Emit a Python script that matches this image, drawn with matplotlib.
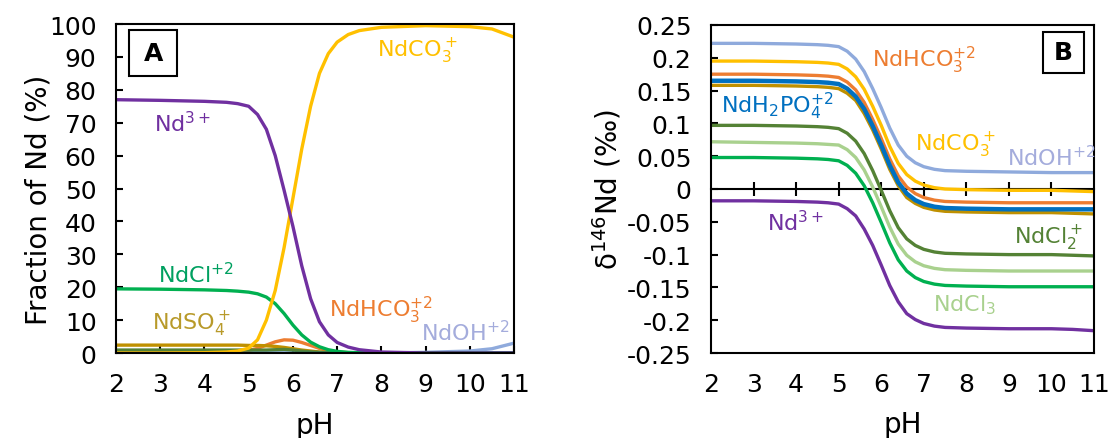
import matplotlib
matplotlib.use('Agg')
import matplotlib.pyplot as plt
from matplotlib.patches import Rectangle

plt.rcParams['font.family'] = ['DejaVu Sans']
plt.rcParams['mathtext.fontset'] = 'dejavusans'

# pH grid shared by both panels
ph = [2, 3, 4, 4.5, 4.75, 5, 5.2, 5.4, 5.6, 5.8, 6.0, 6.2, 6.4, 6.6, 6.8, 7.0, 7.25, 7.5, 8, 9, 10, 10.5, 11]

# panel A: fraction of Nd (%)
nd3_a = [77.0, 76.8, 76.5, 76.2, 75.8, 75.0, 72.5, 68.0, 60.0, 49.5, 38.5, 26.5, 16.5, 9.5, 5.5, 3.2, 1.8, 1.0, 0.3, 0.0, 0.0, 0.0, 0.0]
ndco3_a = [0.0, 0.0, 0.1, 0.3, 0.6, 1.5, 4.0, 10.0, 19.0, 32.0, 47.0, 62.0, 75.0, 85.0, 91.0, 94.5, 96.8, 98.0, 99.0, 99.5, 99.2, 98.5, 96.0]
ndcl_a = [19.5, 19.4, 19.2, 19.0, 18.8, 18.5, 18.0, 17.0, 15.0, 12.0, 8.5, 5.5, 3.3, 1.9, 1.0, 0.5, 0.2, 0.1, 0.0, 0.0, 0.0, 0.0, 0.0]
ndhco3_a = [0.5, 0.5, 0.5, 0.5, 0.6, 0.8, 1.4, 2.4, 3.4, 4.0, 3.9, 3.2, 2.3, 1.4, 0.7, 0.3, 0.1, 0.0, 0.0, 0.0, 0.0, 0.0, 0.0]
ndso4_a = [2.4, 2.4, 2.4, 2.4, 2.4, 2.3, 2.3, 2.2, 2.0, 1.7, 1.3, 0.9, 0.6, 0.3, 0.15, 0.05, 0.0, 0.0, 0.0, 0.0, 0.0, 0.0, 0.0]
ndcl2_a = [0.9, 0.9, 0.9, 0.9, 0.9, 0.9, 0.9, 0.9, 1.0, 1.1, 0.9, 0.6, 0.35, 0.2, 0.1, 0.05, 0.0, 0.0, 0.0, 0.0, 0.0, 0.0, 0.0]
ndoh_a = [0.0, 0.0, 0.0, 0.0, 0.0, 0.0, 0.0, 0.0, 0.0, 0.0, 0.0, 0.0, 0.0, 0.0, 0.0, 0.0, 0.0, 0.0, 0.0, 0.2, 0.6, 1.3, 3.0]
ndh2po4_a = [0.1] * len(ph)

# panel B: delta 146Nd (permil)
ndoh_b = [0.222, 0.222, 0.221, 0.220, 0.219, 0.217, 0.210, 0.198, 0.179, 0.153, 0.124, 0.093, 0.067, 0.050, 0.040, 0.034, 0.030, 0.028, 0.027, 0.026, 0.025, 0.025, 0.025]
ndco3_b = [0.195, 0.195, 0.194, 0.193, 0.192, 0.190, 0.183, 0.171, 0.152, 0.126, 0.097, 0.065, 0.039, 0.022, 0.012, 0.006, 0.002, 0.000, -0.001, -0.002, -0.002, -0.003, -0.004]
ndhco3_b = [0.175, 0.175, 0.174, 0.173, 0.172, 0.170, 0.163, 0.151, 0.132, 0.106, 0.077, 0.046, 0.020, 0.003, -0.007, -0.013, -0.017, -0.019, -0.020, -0.021, -0.021, -0.021, -0.021]
ndso4_b = [0.158, 0.158, 0.157, 0.156, 0.155, 0.153, 0.146, 0.135, 0.115, 0.090, 0.061, 0.030, 0.005, -0.013, -0.022, -0.028, -0.032, -0.034, -0.035, -0.036, -0.036, -0.037, -0.038]
ndh2po4_b = [0.165, 0.165, 0.164, 0.163, 0.162, 0.160, 0.153, 0.141, 0.122, 0.096, 0.067, 0.036, 0.010, -0.007, -0.017, -0.023, -0.027, -0.029, -0.030, -0.031, -0.031, -0.031, -0.031]
ndcl2_b = [0.097, 0.097, 0.096, 0.095, 0.094, 0.092, 0.085, 0.073, 0.054, 0.028, -0.002, -0.033, -0.059, -0.076, -0.086, -0.092, -0.096, -0.098, -0.099, -0.100, -0.100, -0.101, -0.102]
ndcl3_b = [0.072, 0.071, 0.070, 0.069, 0.068, 0.067, 0.060, 0.048, 0.029, 0.003, -0.027, -0.058, -0.084, -0.101, -0.111, -0.117, -0.121, -0.123, -0.124, -0.125, -0.125, -0.125, -0.125]
ndcl_b = [0.048, 0.048, 0.047, 0.046, 0.045, 0.043, 0.036, 0.024, 0.005, -0.021, -0.051, -0.082, -0.108, -0.125, -0.135, -0.141, -0.145, -0.147, -0.148, -0.149, -0.149, -0.149, -0.149]
nd3_b = [-0.018, -0.018, -0.019, -0.020, -0.021, -0.023, -0.030, -0.041, -0.061, -0.086, -0.116, -0.147, -0.172, -0.190, -0.199, -0.205, -0.209, -0.211, -0.212, -0.213, -0.213, -0.214, -0.216]

xticks = [2, 3, 4, 5, 6, 7, 8, 9, 10, 11]
yticks_a = [0, 10, 20, 30, 40, 50, 60, 70, 80, 90, 100]
yticks_b = [0.25, 0.2, 0.15, 0.1, 0.05, 0, -0.05, -0.1, -0.15, -0.2, -0.25]
ytick_labels_b = ['0.25', '0.2', '0.15', '0.1', '0.05', '0', '-0.05', '-0.1', '-0.15', '-0.2', '-0.25']

c_nd3 = '#7030a0'
c_co3 = '#ffc000'
c_cl = '#00b050'
c_hco3 = '#ed7d31'
c_so4 = '#bf9000'
c_oh = '#8faadc'
c_po4 = '#0070c0'
c_cl2 = '#548235'
c_cl3 = '#a9d18e'

fig = plt.figure(figsize=(11.12, 4.39), dpi=100)
axA = fig.add_axes([0.1043, 0.1936, 0.358, 0.7494])
axB = fig.add_axes([0.6394, 0.1936, 0.3444, 0.7472])

lw = 2.4
tick_fs = 18
lab_fs = 20
fs = 16

# ---- panel A
axA.plot(ph, ndoh_a, color=c_oh, lw=lw)
axA.plot(ph, ndhco3_a, color=c_hco3, lw=lw)
axA.plot(ph, ndso4_a, color=c_so4, lw=lw)
axA.plot(ph, ndcl2_a, color=c_cl2, lw=lw)
axA.plot(ph, ndh2po4_a, color=c_po4, lw=lw)
axA.plot(ph, ndcl_a, color=c_cl, lw=lw)
axA.plot(ph, ndco3_a, color=c_co3, lw=lw)
axA.plot(ph, nd3_a, color=c_nd3, lw=lw)

axA.set_xlim(2, 11)
axA.set_ylim(0, 100)
axA.set_xticks(xticks)
axA.set_yticks(yticks_a)
axA.tick_params(direction='in', length=5, width=1.5, labelsize=tick_fs, pad=14)
axA.set_xlabel('pH', fontsize=lab_fs)
axA.set_ylabel('Fraction of Nd (%)', fontsize=lab_fs)
axA.xaxis.set_label_coords(0.5, -0.175)
axA.yaxis.set_label_coords(-0.16, 0.47)

axA.text(8.8, 92, 'NdCO$_3^+$', color=c_co3, fontsize=fs, ha='center', va='center')
axA.text(3.5, 70, 'Nd$^{3+}$', color=c_nd3, fontsize=fs, ha='center', va='center')
axA.text(3.8, 24, 'NdCl$^{+2}$', color='#00a060', fontsize=fs, ha='center', va='center')
axA.text(3.7, 9.1, 'NdSO$_4^+$', color='#b89a2a', fontsize=fs, ha='center', va='center')
axA.text(8.0, 13.2, 'NdHCO$_3^{+2}$', color=c_hco3, fontsize=fs, ha='center', va='center')
axA.text(9.9, 6.4, 'NdOH$^{+2}$', color='#a4acdc', fontsize=fs, ha='center', va='center')

axA.add_patch(Rectangle((0.033, 0.841), 0.121, 0.141, transform=axA.transAxes,
                        fill=False, lw=1.5, ec='black', zorder=5))
axA.text(0.0935, 0.911, 'A', transform=axA.transAxes, fontsize=18, fontweight='bold',
         ha='center', va='center')

# ---- panel B
axB.plot(ph, ndoh_b, color=c_oh, lw=lw)
axB.plot(ph, ndco3_b, color=c_co3, lw=lw)
axB.plot(ph, ndhco3_b, color=c_hco3, lw=lw)
axB.plot(ph, ndso4_b, color=c_so4, lw=lw)
axB.plot(ph, ndh2po4_b, color=c_po4, lw=3.2)
axB.plot(ph, ndcl2_b, color=c_cl2, lw=lw)
axB.plot(ph, ndcl3_b, color=c_cl3, lw=lw)
axB.plot(ph, ndcl_b, color=c_cl, lw=lw)
axB.plot(ph, nd3_b, color=c_nd3, lw=lw)

axB.set_xlim(2, 11)
axB.set_ylim(-0.25, 0.25)
axB.set_xticks(xticks)
axB.set_yticks(yticks_b)
axB.set_yticklabels(ytick_labels_b)
axB.tick_params(axis='y', direction='in', length=5, width=1.5, labelsize=tick_fs, pad=14)
axB.tick_params(axis='x', length=0, labelsize=tick_fs, pad=14)
axB.set_xlabel('pH', fontsize=lab_fs)
axB.set_ylabel('δ$^{146}$Nd (‰)', fontsize=lab_fs)
axB.xaxis.set_label_coords(0.5, -0.175)
axB.yaxis.set_label_coords(-0.228, 0.5)

# horizontal axis crossing at zero
zero_ax = axB.secondary_xaxis(0.5)
zero_ax.set_xticks(xticks[1:-1])
zero_ax.tick_params(direction='inout', length=10, width=1.5, labelbottom=False, labeltop=False)
zero_ax.spines['bottom'].set_linewidth(1.5)
zero_ax.spines['top'].set_linewidth(1.5)

axB.text(7.0, 0.197, 'NdHCO$_3^{+2}$', color=c_hco3, fontsize=fs, ha='center', va='center')
axB.text(3.55, 0.128, 'NdH$_2$PO$_4^{+2}$', color=c_po4, fontsize=fs, ha='center', va='center')
axB.text(7.73, 0.068, 'NdCO$_3^+$', color=c_co3, fontsize=fs, ha='center', va='center')
axB.text(10.0, 0.05, 'NdOH$^{+2}$', color='#a4acdc', fontsize=fs, ha='center', va='center')
axB.text(4.0, -0.049, 'Nd$^{3+}$', color=c_nd3, fontsize=fs, ha='center', va='center')
axB.text(9.94, -0.074, 'NdCl$_2^+$', color=c_cl2, fontsize=fs, ha='center', va='center')
axB.text(7.95, -0.175, 'NdCl$_3$', color=c_cl3, fontsize=fs, ha='center', va='center')

axB.add_patch(Rectangle((0.868, 0.853), 0.105, 0.127, transform=axB.transAxes,
                        fill=False, lw=1.5, ec='black', zorder=5))
axB.text(0.9205, 0.9165, 'B', transform=axB.transAxes, fontsize=18, fontweight='bold',
         ha='center', va='center')

for ax in (axA, axB):
    for s in ax.spines.values():
        s.set_linewidth(1.5)

fig.savefig('out.png', dpi=100)
